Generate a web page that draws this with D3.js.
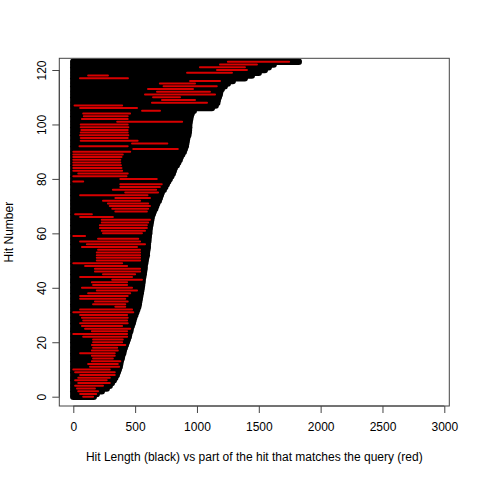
<!DOCTYPE html>
<html><head><meta charset="utf-8">
<script src="https://cdn.jsdelivr.net/npm/d3@7"></script>
<style>body{margin:0;background:#fff}svg{display:block}text{font-family:"Liberation Sans",Arial,sans-serif;fill:#000}</style>
</head><body>
<svg id="c" width="480" height="480"></svg>
<script>
// Hit lengths (black), hit index 0..123
const hitLength = [165,189,230,270,294,311,327,339,351,359,367,375,379,383,391,395,403,408,416,424,
432,440,448,452,460,464,472,480,486,492,501,509,517,525,529,533,537,541,545,549,
553,556,559,561,565,569,572,576,577,581,585,589,594,595,599,602,602,606,608,610,
614,615,618,622,626,630,634,642,650,662,670,678,691,699,707,715,731,743,755,767,
779,792,804,812,820,836,848,860,868,880,893,901,909,913,917,921,929,933,935,937,
937,941,945,949,957,974,1120,1151,1164,1168,1176,1184,1188,1200,1224,1249,1289,1386,1443,1499,
1548,1580,1620,1823];
// Part of each hit matching the query (red): start and end
const matchStart = [80,55,40,30,15,40,15,40,55,15,0,135,120,150,160,150,55,150,160,150,
160,160,80,0,150,95,70,55,80,70,55,0,55,340,160,175,55,55,120,190,
70,160,150,315,55,240,175,175,95,0,190,190,190,190,200,70,110,55,200,0,
240,230,215,215,230,230,55,15,340,315,295,280,240,340,55,420,320,380,380,0,
380,0,40,0,0,0,0,0,0,0,0,485,50,475,60,60,55,60,65,60,
60,355,70,85,80,556,55,10,636,717,645,580,677,604,730,700,944,54,120,920,
1162,1024,1186,1250];
const matchEnd = [160,185,200,175,240,295,270,295,335,335,295,370,360,380,320,335,335,360,355,420,
395,400,435,435,435,460,395,440,435,440,435,485,475,420,420,440,420,440,460,515,
475,435,435,555,475,500,540,540,435,395,540,540,540,540,540,515,580,540,525,95,
555,580,595,595,605,620,320,150,595,605,620,605,540,620,600,685,670,700,715,80,
675,430,440,395,390,385,380,380,390,400,460,845,440,760,520,440,445,440,440,445,
440,880,440,440,459,701,515,395,1081,984,863,1146,1105,968,1160,984,1186,442,280,1283,
1404,1388,1485,1745];
const xTicks = [0,500,1000,1500,2000,2500,3000];
const yTicks = [0,20,40,60,80,100,120];
const xLabel = "Hit Length (black) vs part of the hit that matches the query (red)";
const yLabel = "Hit Number";

const svg = d3.select("#c");
const L = 59.3, R = 449.3, T = 58.3, B = 406;
const x = d3.scaleLinear().domain([-113.2, 3040.4]).range([L, R]);
const y = d3.scaleLinear().domain([-3.42, 124.3]).range([B, T]);

svg.append("clipPath").attr("id","clip").append("rect")
  .attr("x",L).attr("y",T).attr("width",R-L).attr("height",B-T);
const g = svg.append("g").attr("clip-path","url(#clip)");
const hits = d3.range(hitLength.length);
g.selectAll("line.b").data(hits).join("line").attr("class","b")
  .attr("x1", x(0)).attr("x2", i => x(hitLength[i]))
  .attr("y1", i => y(i)).attr("y2", i => y(i))
  .attr("stroke","#000").attr("stroke-width",6.5).attr("stroke-linecap","round");
g.selectAll("line.r").data(hits).join("line").attr("class","r")
  .attr("x1", i => x(matchStart[i])).attr("x2", i => x(matchEnd[i]))
  .attr("y1", i => y(i)).attr("y2", i => y(i))
  .attr("stroke","#d80000").attr("stroke-width",2).attr("stroke-linecap","round");

// box
svg.append("rect").attr("x",L).attr("y",T).attr("width",R-L).attr("height",B-T)
  .attr("fill","none").attr("stroke","#444").attr("stroke-width",1);

// x axis
const xa = svg.append("g").attr("transform",`translate(0,${B})`)
  .call(d3.axisBottom(x).tickValues(xTicks).tickSize(7).tickPadding(8).tickFormat(d3.format("d")));
xa.select(".domain").attr("d", `M${x(0)},0H${x(3000)}`).attr("stroke","#444");
xa.selectAll(".tick line").attr("stroke","#444");
xa.selectAll("text").attr("font-size",12).attr("font-family","Liberation Sans, Arial, sans-serif").attr("dy","0.35em").attr("y",21);

// y axis
const ya = svg.append("g").attr("transform",`translate(${L},0)`)
  .call(d3.axisLeft(y).tickValues(yTicks).tickSize(7).tickFormat(d3.format("d")));
ya.select(".domain").attr("d", `M0,${y(0)}V${y(120)}`).attr("stroke","#444");
ya.selectAll(".tick line").attr("stroke","#444");
ya.selectAll("text").attr("font-size",12).attr("font-family","Liberation Sans, Arial, sans-serif")
  .attr("x",null).attr("dy",null).attr("text-anchor","middle")
  .attr("transform","translate(-18,0) rotate(-90)").attr("dy","0.35em");

svg.append("text").attr("x",(L+R)/2).attr("y",461).attr("text-anchor","middle")
  .attr("font-size",12).text(xLabel);
svg.append("text").attr("transform",`translate(13,${(T+B)/2}) rotate(-90)`)
  .attr("text-anchor","middle").attr("font-size",12).text(yLabel);
</script>
</body></html>
